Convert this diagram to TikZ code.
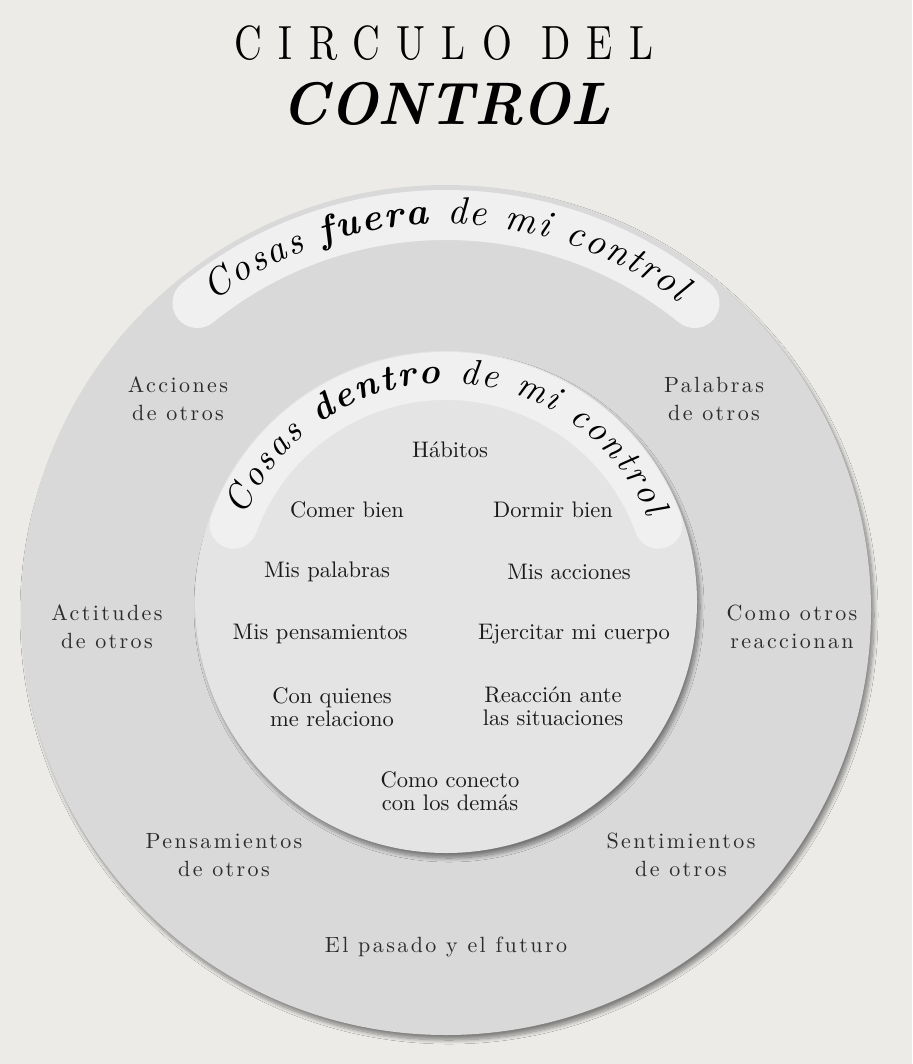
\documentclass[tikz,border=0pt]{standalone}
\usepackage{fontspec}
\setmainfont{lmroman10}[Extension=.otf, UprightFont=*-regular, BoldFont=*-bold, ItalicFont=*-italic, BoldItalicFont=*-bolditalic]
\usetikzlibrary{decorations.text, shadows.blur}
\definecolor{paper}{HTML}{ECEBE8}
\definecolor{ringgray}{HTML}{D9D9D9}
\definecolor{coregray}{HTML}{E4E4E4}
\definecolor{bandgray}{HTML}{F0F0F0}
\definecolor{inktext}{HTML}{1A1A1A}
\definecolor{softink}{HTML}{2C2C2C}

\begin{document}
\begin{tikzpicture}[x=1pt, y=1pt,
    outerlbl/.style={align=center, font=\fontsize{22}{28}\selectfont\addfontfeature{LetterSpace=11}, text=softink},
    innerlbl/.style={align=center, font=\fontsize{22.5}{23}\selectfont, text=inktext},
    ringshadow/.style={blur shadow={shadow blur steps=10, shadow xshift=3pt, shadow yshift=-5pt, shadow blur radius=4pt, shadow opacity=45}}
]

\useasboundingbox (0,0) rectangle (912,-1064);
\fill[paper] (0,0) rectangle (912,-1064);

% Title
\node[font=\fontsize{48}{50}\selectfont\addfontfeature{FakeStretch=0.8, LetterSpace=34}] (title1) at (444,-43) {CIRCULO DEL};
\node[font=\fontsize{60}{62}\selectfont\bfseries\itshape\addfontfeature{FakeStretch=0.95}] (title2) at (446,-104) {CONTROL};

% Outer ring
\fill[ringgray, ringshadow] (446,-610) circle[radius=425];
\draw[bandgray, line width=50, line cap=round] ([shift={(129:395)}]446,-610) arc[start angle=129, end angle=51, radius=395];
\path[decorate, decoration={text along path, text align={fit to path},
    text={|\fontsize{38}{40}\selectfont\itshape|Cosas |\fontsize{38}{40}\selectfont\bfseries\itshape|fuera|\fontsize{38}{40}\selectfont\itshape| de mi control}}]
    ([shift={(127:386)}]446,-610) arc[start angle=127, end angle=53, radius=386];

% Inner circle
\fill[coregray, ringshadow] (446,-602) circle[radius=251];
\begin{scope}
  \clip (446,-602) circle[radius=251];
  \draw[bandgray, line width=48, line cap=round] ([shift={(160:226)}]446,-602) arc[start angle=160, end angle=20, radius=226];
\end{scope}
\path[decorate, decoration={text along path, text align={fit to path},
    text={|\fontsize{36}{38}\selectfont\itshape|Cosas |\fontsize{36}{38}\selectfont\bfseries\itshape|dentro|\fontsize{36}{38}\selectfont\itshape| de mi control}}]
    ([shift={(157:219)}]446,-602) arc[start angle=157, end angle=23, radius=219];

% Things outside
\node[outerlbl] (acciones) at (178,-399) {Acciones\\de otros};
\node[outerlbl] (palabras) at (714,-399) {Palabras\\de otros};
\node[outerlbl] (actitudes) at (107,-627) {Actitudes\\de otros};
\node[outerlbl] (reaccionan) at (792,-627) {Como otros\\reaccionan};
\node[outerlbl] (pensotros) at (224,-855) {Pensamientos\\de otros};
\node[outerlbl] (sentotros) at (681,-855) {Sentimientos\\de otros};
\node[outerlbl] (pasado) at (446,-947) {El pasado y el futuro};

% Things inside
\node[innerlbl] (habitos) at (450,-450) {Hábitos};
\node[innerlbl] (comer) at (347,-510) {Comer bien};
\node[innerlbl] (dormir) at (553,-510) {Dormir bien};
\node[innerlbl] (mispal) at (327,-572) {Mis palabras};
\node[innerlbl] (misacc) at (569,-572) {Mis acciones};
\node[innerlbl] (mispens) at (320,-634) {Mis pensamientos};
\node[innerlbl] (ejercitar) at (574,-634) {Ejercitar mi cuerpo};
\node[innerlbl] (quienes) at (332,-707) {Con quienes\\me relaciono};
\node[innerlbl] (reaccion) at (553,-706) {Reacción ante\\las situaciones};
\node[innerlbl] (conecto) at (450,-791) {Como conecto\\con los demás};

\end{tikzpicture}
\end{document}
